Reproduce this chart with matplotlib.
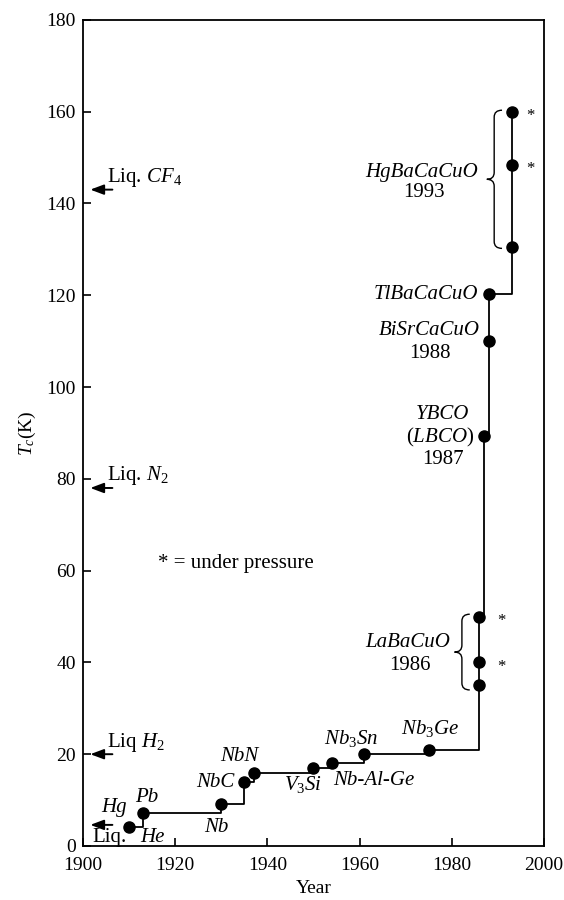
import numpy as np
import matplotlib
matplotlib.use("Agg")
import matplotlib.pyplot as plt
from matplotlib.path import Path
from matplotlib.patches import PathPatch

plt.rcParams['font.family'] = ['Liberation Serif', 'DejaVu Serif']
plt.rcParams['mathtext.fontset'] = 'custom'
plt.rcParams['mathtext.rm'] = 'Liberation Serif'
plt.rcParams['mathtext.it'] = 'Liberation Serif:italic'

# discovery record: year, Tc (K)
years = [1910, 1913, 1930, 1935, 1937, 1950, 1954, 1961, 1975,
         1985.8, 1985.8, 1985.8, 1987.0, 1988.0, 1988.0, 1993.0, 1993.0, 1993.0]
tc = [4.2, 7.2, 9.2, 14.0, 16.0, 17.0, 18.0, 20.0, 21.0,
      35.0, 40.0, 50.0, 89.3, 110.0, 120.2, 130.5, 148.4, 160.0]
pressure = [False] * 10 + [True, True] + [False] * 4 + [True, True]

# liquid coolants
liquids = ['He', 'H2', 'N2', 'CF4']
liquid_tc = [4.6, 20.0, 78.0, 143.0]

FS = 15

fig = plt.figure(figsize=(5.64, 9.0), dpi=100)
ax = fig.add_axes([0.147, 0.06, 0.8175, 0.918])

ax.step(years, tc, where='post', color='black', lw=1.3, zorder=2)
ax.plot(years, tc, 'o', color='black', ms=8, zorder=3)

# asterisks for the under-pressure points
for x, y, p in zip(years, tc, pressure):
    if p:
        dx = 4.0 if x > 1990 else 5.0
        ax.text(x + dx, y - 1.0, '*', fontsize=12, ha='center', va='center')

# liquids: arrows at the left axis
for name, t in zip(liquids, liquid_tc):
    ax.annotate('', xy=(1901, t), xytext=(1907, t),
                arrowprops=dict(arrowstyle='-|>,head_length=0.8,head_width=0.3',
                                color='black', lw=1.4))
ax.text(1905.2, 145.7, r'Liq. $\mathit{CF}_4$', fontsize=FS, va='center')
ax.text(1905.2, 80.8, r'Liq. $\mathit{N}_2$', fontsize=FS, va='center')
ax.text(1905.2, 22.5, r'Liq $\mathit{H}_2$', fontsize=FS, va='center')
ax.text(1902.0, 1.9, 'Liq.', fontsize=FS, va='center')
ax.text(1915.0, 1.9, 'He', fontsize=FS, style='italic', ha='center', va='center')

# material labels
it = dict(fontsize=FS, style='italic')
ax.text(1906.8, 8.3, 'Hg', ha='center', va='center', **it)
ax.text(1913.9, 10.5, 'Pb', ha='center', va='center', **it)
ax.text(1929.0, 4.0, 'Nb', ha='center', va='center', **it)
ax.text(1928.8, 13.8, 'NbC', ha='center', va='center', **it)
ax.text(1933.9, 19.4, 'NbN', ha='center', va='center', **it)
ax.text(1947.8, 13.3, r'$\mathit{V}_3\mathit{Si}$', ha='center', va='center', fontsize=FS)
ax.text(1954.2, 14.2, 'Nb-Al-Ge', ha='left', va='center', **it)
ax.text(1958.2, 23.5, r'$\mathit{Nb}_3\mathit{Sn}$', ha='center', va='center', fontsize=FS)
ax.text(1975.3, 25.7, r'$\mathit{Nb}_3\mathit{Ge}$', ha='center', va='center', fontsize=FS)

ax.text(1973.5, 146.8, 'HgBaCaCuO', ha='center', va='center', **it)
ax.text(1974.0, 142.4, '1993', ha='center', va='center', fontsize=FS)
ax.text(1985.7, 120.2, 'TlBaCaCuO', ha='right', va='center', **it)
ax.text(1986.1, 112.4, 'BiSrCaCuO', ha='right', va='center', **it)
ax.text(1975.3, 107.3, '1988', ha='center', va='center', fontsize=FS)
ax.text(1977.9, 93.9, 'YBCO', ha='center', va='center', **it)
ax.text(1977.4, 89.1, r'($\mathit{LBCO}$)', ha='center', va='center', fontsize=FS)
ax.text(1978.0, 84.1, '1987', ha='center', va='center', fontsize=FS)
ax.text(1970.5, 44.4, 'LaBaCuO', ha='center', va='center', **it)
ax.text(1971.0, 39.4, '1986', ha='center', va='center', fontsize=FS)

ax.text(1916.2, 61.6, '* = under pressure', fontsize=FS, va='center')


def brace(ax, x, y0, y1, w=1.7, d=1.6, r=1.5):
    ym = (y0 + y1) / 2
    verts = [(x + w, y1), (x, y1), (x, y1 - r),
             (x, ym + r), (x, ym), (x - d, ym),
             (x, ym), (x, ym - r),
             (x, y0 + r), (x, y0), (x + w, y0)]
    codes = [Path.MOVETO, Path.CURVE3, Path.CURVE3,
             Path.LINETO, Path.CURVE3, Path.CURVE3,
             Path.CURVE3, Path.CURVE3,
             Path.LINETO, Path.CURVE3, Path.CURVE3]
    ax.add_patch(PathPatch(Path(verts, codes), fill=False, lw=1.0,
                           edgecolor='black'))


brace(ax, 1989.2, min(tc[15:18]) - 0.3, max(tc[15:18]) + 0.3)
brace(ax, 1982.2, min(tc[9:12]) - 1.0, max(tc[9:12]) + 0.5)

ax.set_xlim(1900, 2000)
ax.set_ylim(0, 180)
ax.set_xticks(np.arange(1900, 2001, 20))
ax.set_yticks(np.arange(0, 181, 20))
ax.tick_params(direction='in', length=6, width=1.2, labelsize=14)
ax.tick_params(axis='x', pad=8)
ax.tick_params(axis='y', pad=5)
for s in ax.spines.values():
    s.set_linewidth(1.3)
ax.set_xlabel('Year', fontsize=14, labelpad=4)
ax.set_ylabel(r'$T_c$(K)', fontsize=14, labelpad=6)

fig.savefig('out.png', dpi=100)
